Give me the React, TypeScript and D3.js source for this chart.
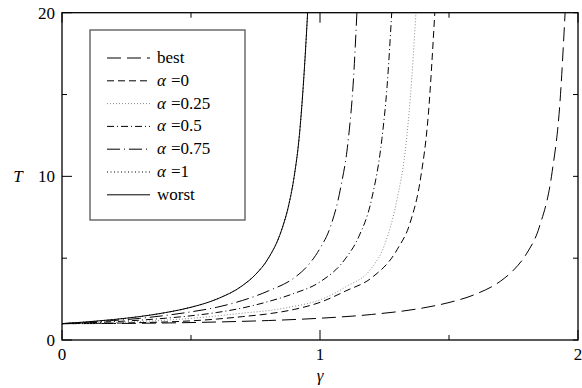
import React from "react";
import * as d3 from "d3";

const W = 582;
const H = 388;

// γ sample positions and T values for each curve
const gammaWorst = [0, 0.1, 0.2, 0.3, 0.4, 0.5, 0.6, 0.7, 0.75, 0.8, 0.85, 0.88, 0.9, 0.92, 0.94, 0.952];
const tWorst = [1, 1.11, 1.25, 1.43, 1.67, 2.0, 2.5, 3.33, 4.0, 5.0, 6.67, 8.33, 10, 12.5, 16.7, 20];

const gammaA1 = gammaWorst;
const tA1 = tWorst;

const gammaA075 = [0, 0.1, 0.2, 0.3, 0.4, 0.5, 0.6, 0.7, 0.8, 0.9, 0.95, 1.0, 1.04, 1.08, 1.11, 1.13, 1.143];
const tA075 = [1, 1.08, 1.19, 1.32, 1.5, 1.72, 2.0, 2.42, 3.0, 3.8, 4.5, 5.6, 6.9, 9.3, 12.3, 16, 20];

const gammaA05 = [0, 0.1, 0.2, 0.3, 0.4, 0.5, 0.6, 0.7, 0.8, 0.9, 1.0, 1.1, 1.15, 1.2, 1.24, 1.26, 1.278];
const tA05 = [1, 1.05, 1.12, 1.21, 1.33, 1.48, 1.68, 1.96, 2.35, 2.85, 3.55, 5.0, 6.3, 8.6, 12.3, 15.5, 20];

const gammaA025 = [0, 0.1, 0.2, 0.3, 0.4, 0.5, 0.6, 0.7, 0.8, 0.9, 1.0, 1.1, 1.2, 1.25, 1.3, 1.33, 1.35, 1.372];
const tA025 = [1, 1.03, 1.07, 1.13, 1.21, 1.32, 1.47, 1.64, 1.8, 2.06, 2.45, 3.25, 4.4, 5.8, 8.7, 11.5, 14.8, 20];

const gammaA0 = [0, 0.1, 0.2, 0.3, 0.4, 0.5, 0.6, 0.7, 0.8, 0.9, 1.0, 1.1, 1.2, 1.3, 1.35, 1.39, 1.42, 1.445];
const tA0 = [1, 1.01, 1.03, 1.06, 1.1, 1.17, 1.28, 1.43, 1.6, 1.87, 2.3, 3.0, 3.8, 5.55, 7.2, 9.9, 13.8, 20];

const gammaBest = [0, 0.2, 0.4, 0.6, 0.8, 1.0, 1.2, 1.4, 1.5, 1.6, 1.7, 1.75, 1.8, 1.85, 1.9, 1.93, 1.95];
const tBest = [1, 1.01, 1.04, 1.1, 1.19, 1.33, 1.56, 1.96, 2.29, 2.78, 3.6, 4.27, 5.26, 6.9, 10.3, 14.5, 20];

const xTicks = [0, 0.5, 1, 1.5, 2];
const yTicks = [0, 5, 10, 15, 20];
const xTickLabels = ["0", "1", "2"];
const yTickLabels = ["0", "10", "20"];

type Series = {
  name: string;
  math: boolean;
  value?: string;
  gamma: number[];
  t: number[];
  dash: string;
  color: string;
};

const series: Series[] = [
  { name: "best", math: false, gamma: gammaBest, t: tBest, dash: "14,6", color: "#000" },
  { name: "α", math: true, value: "0", gamma: gammaA0, t: tA0, dash: "7,4", color: "#000" },
  { name: "α", math: true, value: "0.25", gamma: gammaA025, t: tA025, dash: "1,2", color: "#8a8a8a" },
  { name: "α", math: true, value: "0.5", gamma: gammaA05, t: tA05, dash: "7,3,1,3", color: "#000" },
  { name: "α", math: true, value: "0.75", gamma: gammaA075, t: tA075, dash: "13,4,1,4", color: "#000" },
  { name: "α", math: true, value: "1", gamma: gammaA1, t: tA1, dash: "1,2.5", color: "#000" },
  { name: "worst", math: false, gamma: gammaWorst, t: tWorst, dash: "", color: "#000" },
];

const M = { left: 62, right: 578, top: 12.7, bottom: 340 };
const FONT = '"Liberation Serif", "DejaVu Serif", serif';

export default function App() {
  const x = d3.scaleLinear().domain([0, 2]).range([M.left, M.right]);
  const y = d3.scaleLinear().domain([0, 20]).range([M.bottom, M.top]);

  const line = d3
    .line<[number, number]>()
    .x((d) => x(d[0]))
    .y((d) => y(d[1]))
    .curve(d3.curveMonotoneX);

  const legend = { x0: 90, y0: 30, x1: 245, y1: 220, lineX0: 107, lineX1: 150, textX: 157, rowY0: 58, rowStep: 22.8 };

  return (
    <svg width={W} height={H} style={{ position: "absolute", left: 0, top: 0, background: "#fff" }}>
      <defs>
        <clipPath id="plotClip">
          <rect x={M.left} y={M.top} width={M.right - M.left} height={M.bottom - M.top} />
        </clipPath>
      </defs>
      <rect x={0} y={0} width={W} height={H} fill="#fff" />

      {/* curves */}
      <g clipPath="url(#plotClip)">
        {series.map((s, i) => (
          <path
            key={i}
            d={line(s.gamma.map((g, j) => [g, s.t[j]] as [number, number])) || ""}
            fill="none"
            stroke={s.color}
            strokeWidth={1}
            strokeDasharray={s.dash || undefined}
          />
        ))}
      </g>

      {/* ticks, inward on all four sides */}
      {xTicks.map((v, i) => {
        const major = Number.isInteger(v);
        const len = major ? 10 : 5;
        return (
          <g key={"xt" + i}>
            <line x1={x(v)} x2={x(v)} y1={M.bottom} y2={M.bottom - len} stroke="#000" strokeWidth={1} />
            <line x1={x(v)} x2={x(v)} y1={M.top} y2={M.top + len} stroke="#000" strokeWidth={1} />
          </g>
        );
      })}
      {yTicks.map((v, i) => {
        const major = v % 10 === 0;
        const len = major ? 10 : 5;
        return (
          <g key={"yt" + i}>
            <line x1={M.left} x2={M.left + len} y1={y(v)} y2={y(v)} stroke="#000" strokeWidth={1} />
            <line x1={M.right} x2={M.right - 5} y1={y(v)} y2={y(v)} stroke="#000" strokeWidth={1} />
          </g>
        );
      })}

      {/* frame */}
      <rect
        x={M.left}
        y={M.top}
        width={M.right - M.left}
        height={M.bottom - M.top}
        fill="none"
        stroke="#000"
        strokeWidth={1.3}
      />

      <g fontFamily={FONT} fill="#000">
        {/* tick labels */}
        {xTickLabels.map((t, i) => (
          <text key={"xl" + i} x={x(+t)} y={360} fontSize={17} textAnchor="middle">
            {t}
          </text>
        ))}
        {yTickLabels.map((t, i) => (
          <text key={"yl" + i} x={55} y={y(+t) + 6} fontSize={17} textAnchor="end">
            {t}
          </text>
        ))}

        {/* axis titles */}
        <text x={x(1)} y={381} fontSize={17} fontStyle="italic" textAnchor="middle">
          γ
        </text>
        <text x={18} y={y(10) + 6} fontSize={17} fontStyle="italic" textAnchor="middle">
          T
        </text>
      </g>

      {/* legend */}
      <rect
        x={legend.x0}
        y={legend.y0}
        width={legend.x1 - legend.x0}
        height={legend.y1 - legend.y0}
        fill="#fff"
        stroke="#555"
        strokeWidth={1.3}
      />
      {series.map((s, i) => {
        const ry = legend.rowY0 + i * legend.rowStep;
        return (
          <g key={"lg" + i}>
            <line
              x1={legend.lineX0}
              x2={legend.lineX1}
              y1={ry}
              y2={ry}
              stroke={s.color}
              strokeWidth={1}
              strokeDasharray={s.dash || undefined}
            />
            <text x={legend.textX} y={ry + 5} fontSize={17} fill="#000" fontFamily={FONT}>
              {s.math ? (
                <>
                  <tspan fontStyle="italic">{s.name}</tspan>
                  <tspan dx={5}>={s.value}</tspan>
                </>
              ) : (
                s.name
              )}
            </text>
          </g>
        );
      })}
    </svg>
  );
}
